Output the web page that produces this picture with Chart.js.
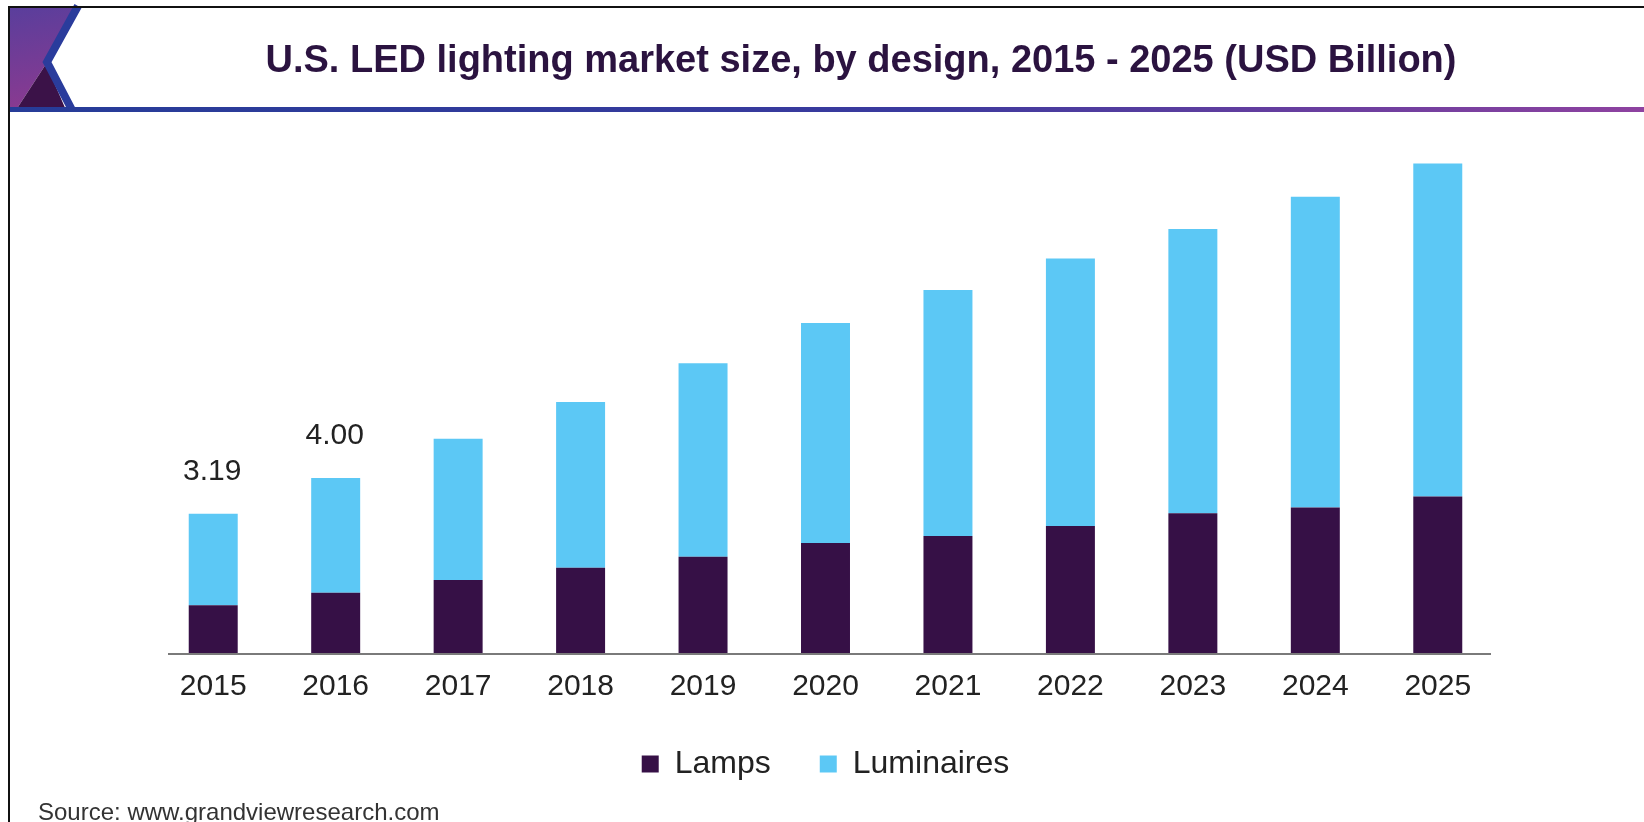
<!DOCTYPE html>
<html>
<head>
<meta charset="utf-8">
<title>U.S. LED lighting market size, by design</title>
<script src="https://cdn.jsdelivr.net/npm/chart.js@4.4.1/dist/chart.umd.min.js"></script>
<style>
  html, body { margin: 0; padding: 0; background: #fff; }
  #wrap { width: 1644px; height: 822px; }
</style>
</head>
<body>
<div id="wrap"><canvas id="ledChart" width="1644" height="822"></canvas></div>
<script>
const years = ['2015', '2016', '2017', '2018', '2019', '2020', '2021', '2022', '2023', '2024', '2025'];
const lamps = [1.11, 1.39, 1.68, 1.96, 2.21, 2.52, 2.68, 2.91, 3.20, 3.33, 3.58];
const luminaires = [2.08, 2.61, 3.21, 3.77, 4.40, 5.00, 5.59, 6.08, 6.46, 7.06, 7.57];
// totals printed over the first bars only
const totalLabels = ['3.19', '4.00'];

const titleText = 'U.S. LED lighting market size, by design, 2015 - 2025 (USD Billion)';
const sourceText = 'Source: www.grandviewresearch.com';
const FONT = '"Liberation Sans", Arial, Helvetica, sans-serif';

// header band, frame, title and source line
const framePlugin = {
    id: 'frame',
    beforeDraw(chart) {
        const ctx = chart.ctx;
        const w = chart.width, h = chart.height;
        ctx.save();
        ctx.fillStyle = '#fff';
        ctx.fillRect(0, 0, w, h);

        // purple corner decoration
        const g = ctx.createLinearGradient(10, 8, 30, 110);
        g.addColorStop(0, '#5a3e9c');
        g.addColorStop(1, '#8b3a90');
        ctx.fillStyle = g;
        ctx.beginPath();
        ctx.moveTo(10, 8); ctx.lineTo(76, 8); ctx.lineTo(46, 64);
        ctx.lineTo(16, 110); ctx.lineTo(10, 110); ctx.closePath();
        ctx.fill();

        ctx.fillStyle = '#3b1248';
        ctx.beginPath();
        ctx.moveTo(16, 110); ctx.lineTo(46, 64); ctx.lineTo(66, 110); ctx.closePath();
        ctx.fill();

        ctx.strokeStyle = '#2a3c9c';
        ctx.lineWidth = 8;
        ctx.beginPath();
        ctx.moveTo(78, 6); ctx.lineTo(47, 62); ctx.lineTo(72, 110);
        ctx.stroke();

        // header underline
        const lg = ctx.createLinearGradient(10, 0, w, 0);
        lg.addColorStop(0, '#263c98');
        lg.addColorStop(0.55, '#3a3a9e');
        lg.addColorStop(1, '#8e42a0');
        ctx.fillStyle = lg;
        ctx.fillRect(10, 107, w - 10, 5);

        // outer frame (top and left)
        ctx.fillStyle = '#111';
        ctx.fillRect(8, 6, w - 8, 2);
        ctx.fillRect(8, 6, 2, h - 6);

        // title
        ctx.fillStyle = '#2b1340';
        ctx.font = 'bold 38px ' + FONT;
        ctx.textAlign = 'center';
        ctx.textBaseline = 'alphabetic';
        ctx.fillText(titleText, 861, 72);

        // source
        ctx.fillStyle = '#333';
        ctx.font = '24px ' + FONT;
        ctx.textAlign = 'left';
        ctx.fillText(sourceText, 38, 820);
        ctx.restore();
    },
    afterDraw(chart) {
        // baseline, a little shorter than the plot area
        const a = chart.chartArea;
        const ctx = chart.ctx;
        ctx.save();
        ctx.strokeStyle = '#7a7a7a';
        ctx.lineWidth = 2;
        ctx.beginPath();
        ctx.moveTo(a.left + 16, a.bottom);
        ctx.lineTo(a.right - 8, a.bottom);
        ctx.stroke();
        ctx.restore();
    }
};

const totalsPlugin = {
    id: 'totals',
    afterDatasetsDraw(chart) {
        const ctx = chart.ctx;
        const meta = chart.getDatasetMeta(1);
        ctx.save();
        ctx.fillStyle = '#222';
        ctx.font = '30px ' + FONT;
        ctx.textAlign = 'center';
        ctx.textBaseline = 'middle';
        totalLabels.forEach((txt, i) => {
            const bar = meta.data[i];
            ctx.fillText(txt, bar.x - 1, bar.y - 42);
        });
        ctx.restore();
    }
};

new Chart(document.getElementById('ledChart'), {
    type: 'bar',
    data: {
        labels: years,
        datasets: [{
            label: 'Lamps',
            data: lamps,
            backgroundColor: '#361046',
            barPercentage: 1,
            categoryPercentage: 0.4
        }, {
            label: 'Luminaires',
            data: luminaires,
            backgroundColor: '#5cc8f5',
            barPercentage: 1,
            categoryPercentage: 0.4
        }]
    },
    options: {
        responsive: false,
        animation: false,
        layout: {
            padding: { top: 126, left: 152, right: 145, bottom: 32 }
        },
        scales: {
            x: {
                stacked: true,
                grid: { display: false, drawTicks: false },
                border: { display: false },
                ticks: {
                    color: '#222',
                    padding: 15,
                    font: { family: FONT, size: 30 }
                },
                afterFit(scale) {
                    scale.height -= 21;
                }
            },
            y: {
                stacked: true,
                display: false,
                min: 0,
                max: 12
            }
        },
        plugins: {
            legend: {
                position: 'bottom',
                labels: {
                    color: '#222',
                    boxWidth: 17,
                    boxHeight: 17,
                    padding: 49,
                    font: { family: FONT, size: 32 }
                }
            },
            tooltip: { enabled: false }
        }
    },
    plugins: [framePlugin, totalsPlugin]
});
</script>
</body>
</html>
